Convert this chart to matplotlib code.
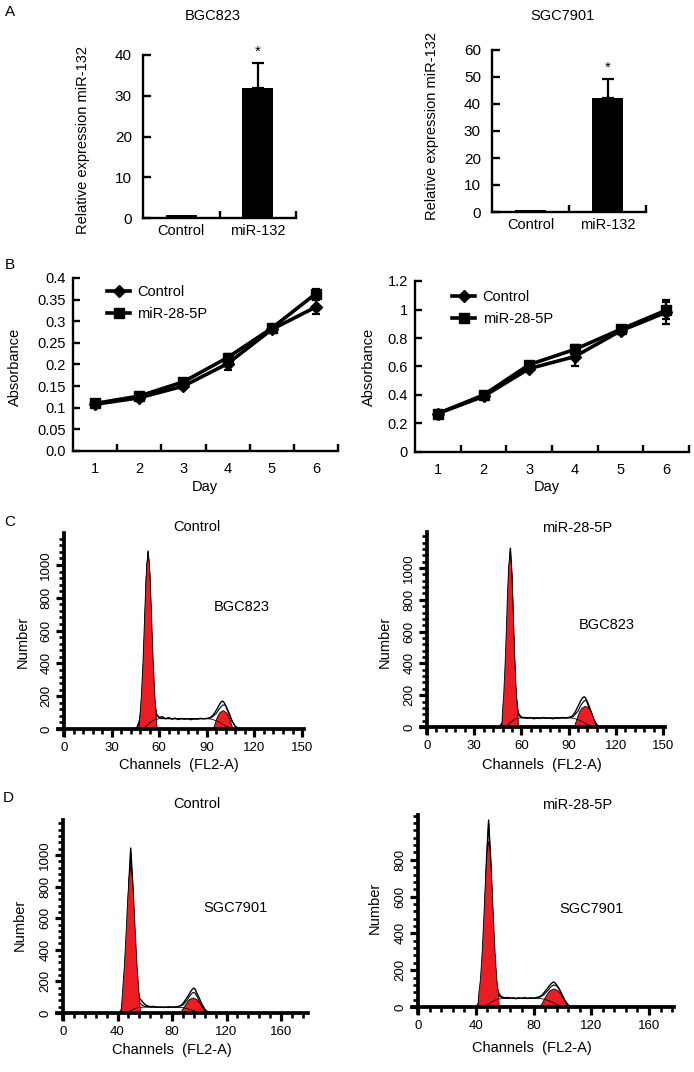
import matplotlib
matplotlib.use('Agg')
import matplotlib.pyplot as plt
import numpy as np
from matplotlib.ticker import MultipleLocator, FixedLocator

plt.rcParams['font.family'] = ['Liberation Sans', 'DejaVu Sans']
plt.rcParams['font.size'] = 10.5

# ---------------- data ----------------
bar_categories = ['Control', 'miR-132']
bgc_expr = [0.8, 32.0]
bgc_expr_err = [0.0, 6.1]
sgc_expr = [0.6, 42.1]
sgc_expr_err = [0.0, 7.2]

days = [1, 2, 3, 4, 5, 6]
bgc_ctrl_abs = [0.108, 0.123, 0.150, 0.202, 0.281, 0.333]
bgc_ctrl_err = [0.005, 0.005, 0.006, 0.014, 0.005, 0.017]
bgc_mir_abs = [0.110, 0.127, 0.160, 0.216, 0.284, 0.364]
bgc_mir_err = [0.006, 0.005, 0.005, 0.008, 0.005, 0.010]
sgc_ctrl_abs = [0.27, 0.39, 0.585, 0.67, 0.85, 0.98]
sgc_ctrl_err = [0.02, 0.015, 0.02, 0.07, 0.02, 0.085]
sgc_mir_abs = [0.27, 0.40, 0.613, 0.72, 0.86, 0.995]
sgc_mir_err = [0.02, 0.015, 0.02, 0.03, 0.02, 0.06]
bgc_abs_ticks = [0.0, 0.05, 0.1, 0.15, 0.2, 0.25, 0.3, 0.35, 0.4]
bgc_abs_ticklabels = ['0.0', '0.05', '0.1', '0.15', '0.2', '0.25', '0.3', '0.35', '0.4']
sgc_abs_ticks = [0, 0.2, 0.4, 0.6, 0.8, 1.0, 1.2]
sgc_abs_ticklabels = ['0', '0.2', '0.4', '0.6', '0.8', '1', '1.2']
series_labels = ['Control', 'miR-28-5P']

# Flow cytometry: BGC823 control
cb_g1_x = [47.35, 48.0, 48.72, 49.73, 50.48, 51.22, 52.14, 53, 53.86, 54.78, 55.52, 56.27, 57.28, 58.0, 58.65]
cb_g1_y = [0, 100, 200, 400, 600, 800, 1000, 1070, 1000, 800, 600, 400, 200, 100, 0]
cb_g2_x = [94.1, 94.8, 95.8, 97.0, 98.3, 100.3, 102.3, 103.6, 104.8, 105.8, 106.5]
cb_g2_y = [0, 20, 50, 80, 100, 112, 100, 80, 50, 20, 0]
cb_s_x = [49, 51, 53, 55, 57, 60, 70, 80, 90, 93, 96, 99, 102, 105, 108]
cb_s_y = [0, 10, 28, 45, 58, 63, 62, 62, 63, 60, 50, 35, 18, 6, 0]
cb_data_x = [44, 46, 48, 49.5, 51, 52, 53, 54, 55, 56, 57, 58, 59, 60, 62, 64, 66, 68, 70, 72,
             74, 76, 78, 80, 82, 84, 86, 88, 90, 92, 94, 96, 98, 99, 100, 101, 102, 104, 106, 108, 110, 112]
cb_data_y = [0, 10, 60, 220, 600, 920, 1085, 920, 560, 270, 140, 95, 80, 72, 75, 62, 70, 60, 66, 58,
             64, 60, 63, 57, 62, 60, 65, 62, 64, 68, 85, 115, 150, 165, 170, 160, 140, 90, 45, 15, 5, 0]
cb_fit_x = [45, 47, 49, 50.5, 52, 53, 54, 55.5, 57, 58.5, 60, 65, 75, 85, 90, 93, 96, 98, 100, 101, 102, 104, 106, 108, 110]
cb_fit_y = [0, 20, 150, 480, 950, 1075, 950, 480, 170, 85, 68, 64, 63, 63, 64, 70, 95, 125, 145, 148, 140, 100, 48, 15, 0]

# Flow: BGC823 miR-28-5P
mb_g1_x = [47.6, 47.98, 48.74, 49.67, 50.38, 51.04, 51.84, 52.8, 53.76, 54.56, 55.22, 55.93, 56.86, 57.62, 58.2]
mb_g1_y = [0, 100, 200, 400, 600, 800, 1000, 1100, 1000, 800, 600, 400, 200, 100, 0]
mb_g2_x = [93.7, 94.5, 95.7, 97.0, 98.5, 100.7, 102.9, 104.4, 105.7, 106.9, 107.7]
mb_g2_y = [0, 25, 60, 95, 118, 130, 118, 95, 60, 25, 0]
mb_s_x = [49, 51, 53, 55, 57, 60, 70, 80, 90, 93, 96, 99, 102, 105, 108]
mb_s_y = [0, 10, 28, 44, 54, 57, 57, 56, 57, 55, 46, 32, 16, 5, 0]
mb_data_x = [46, 48, 49.5, 51, 52, 53, 54, 55, 56, 57, 58, 59, 60, 62, 64, 66, 68, 70, 72, 74,
             76, 78, 80, 82, 84, 86, 88, 90, 92, 94, 96, 98, 99, 100, 101, 102, 104, 106, 108, 110]
mb_data_y = [0, 30, 170, 600, 950, 1125, 950, 600, 280, 130, 80, 66, 60, 58, 55, 60, 52, 57, 54, 60,
             55, 57, 52, 58, 56, 60, 57, 60, 66, 90, 130, 170, 185, 190, 180, 150, 90, 40, 12, 0]
mb_fit_x = [46, 48, 49.5, 51, 52, 53, 54, 55, 56.5, 58, 60, 65, 75, 85, 90, 93, 96, 98, 100, 101, 102, 104, 106, 108, 110]
mb_fit_y = [0, 25, 150, 580, 930, 1110, 930, 580, 220, 90, 62, 58, 57, 57, 58, 65, 100, 140, 165, 168, 160, 110, 50, 15, 0]

# Flow: SGC7901 control
cs_g1_x = [42.45, 43.1, 43.8, 45.04, 46.25, 47.36, 48.39, 49.7, 51.01, 52.04, 53.15, 54.36, 55.6, 56.3, 56.95]
cs_g1_y = [0, 60, 150, 300, 500, 700, 850, 930, 850, 700, 500, 300, 150, 60, 0]
cs_g2_x = [86.1, 87.4, 89.1, 91.0, 92.8, 95.6, 98.4, 100.2, 102.1, 103.8, 105.1]
cs_g2_y = [0, 15, 40, 65, 85, 95, 85, 65, 40, 15, 0]
cs_s_x = [45, 48, 51, 54, 57, 60, 70, 80, 85, 88, 91, 94, 97, 100, 103]
cs_s_y = [0, 8, 22, 32, 36, 37, 36, 36, 36, 34, 28, 20, 11, 4, 0]
cs_data_x = [41, 43, 45, 47, 48.5, 49.7, 51, 52.5, 54.5, 56, 57, 58, 60, 62, 64, 66, 68, 70, 72, 74,
             76, 78, 80, 82, 84, 86, 88, 90, 92, 94, 95, 96, 97, 98, 100, 102, 104, 106, 108]
cs_data_y = [0, 20, 120, 460, 850, 1044, 850, 450, 170, 95, 85, 75, 55, 45, 40, 42, 38, 36, 38, 35,
             37, 40, 36, 38, 40, 45, 60, 85, 110, 140, 150, 158, 150, 130, 95, 55, 25, 8, 0]
cs_fit_x = [41, 43, 45, 47, 48.5, 49.7, 51, 52.5, 54.5, 56, 58, 60, 65, 75, 84, 88, 91, 93, 95, 96, 97, 99, 101, 103, 105, 107]
cs_fit_y = [0, 15, 100, 430, 820, 1020, 820, 420, 150, 70, 50, 42, 38, 37, 38, 50, 80, 108, 128, 130, 125, 95, 55, 25, 8, 0]

# Flow: SGC7901 miR-28-5P
ms_g1_x = [41.5, 41.92, 43.22, 44.45, 45.65, 46.77, 47.88, 48.9, 49.92, 51.03, 52.15, 53.35, 54.58, 55.88, 56.3]
ms_g1_y = [0, 60, 150, 300, 500, 700, 850, 900, 850, 700, 500, 300, 150, 60, 0]
ms_g2_x = [84.2, 85.7, 87.4, 89.4, 91.3, 94.2, 97.1, 99.0, 101.0, 102.7, 104.2]
ms_g2_y = [0, 15, 40, 68, 88, 98, 88, 68, 40, 15, 0]
ms_s_x = [44, 47, 50, 53, 56, 60, 70, 80, 84, 87, 90, 93, 96, 99, 102]
ms_s_y = [0, 8, 22, 36, 44, 47, 46, 46, 46, 43, 36, 26, 14, 5, 0]
ms_data_x = [40, 42, 44, 46, 47.5, 48.9, 50.3, 52, 53.5, 55, 56, 57, 58, 60, 62, 64, 66, 68, 70, 72,
             74, 76, 78, 80, 82, 84, 86, 88, 90, 92, 93, 94, 95, 96, 98, 100, 102, 104, 106]
ms_data_y = [0, 20, 120, 440, 810, 1016, 810, 420, 180, 95, 75, 62, 55, 50, 52, 48, 50, 45, 50, 47,
             52, 46, 50, 48, 52, 55, 65, 85, 105, 125, 132, 136, 130, 120, 95, 60, 30, 10, 0]
ms_fit_x = [40, 42, 44, 46, 47.5, 48.9, 50.3, 52, 53.5, 55, 57, 60, 70, 80, 84, 87, 90, 92, 94, 96, 98, 100, 102, 104, 106]
ms_fit_y = [0, 15, 100, 410, 790, 1000, 790, 400, 160, 80, 55, 49, 48, 48, 52, 65, 90, 110, 120, 115, 95, 65, 35, 12, 0]

# ---------------- figure ----------------
W, H = 694, 1072
fig = plt.figure(figsize=(W / 100, H / 100), dpi=100)
RED = '#EC1C24'


def add_ax(l, t, r, b):
    return fig.add_axes([l / W, 1 - b / H, (r - l) / W, (b - t) / H])


def fig_xy(x, y):
    return x / W, 1 - y / H


def place_ylabel(ax, text, x, y, size=10.5):
    ax.set_ylabel(text, fontsize=size, va='center', ha='center')
    ax.yaxis.set_label_coords(*fig_xy(x, y), transform=fig.transFigure)


def place_xlabel(ax, text, x, y, size=10.5):
    ax.set_xlabel(text, fontsize=size, va='center', ha='center')
    ax.xaxis.set_label_coords(*fig_xy(x, y), transform=fig.transFigure)


def bar_panel(box, vals, errs, ymax, ystep, title, title_xy, ylab_xy, star_off):
    ax = add_ax(*box)
    ax.bar([0.5, 1.5], vals, width=0.405, color='black')
    ax.errorbar([1.5], [vals[1]], yerr=[[0], [errs[1]]], fmt='none', ecolor='black',
                elinewidth=1.6, capsize=4.5, capthick=1.6)
    ax.annotate('*', xy=(1.5, vals[1] + errs[1]), xytext=(0, star_off), textcoords='offset points',
                ha='center', va='bottom', fontsize=11)
    ax.set_xlim(0, 2)
    ax.set_ylim(0, ymax)
    for s in ['top', 'right']:
        ax.spines[s].set_visible(False)
    for s in ['left', 'bottom']:
        ax.spines[s].set_linewidth(1.7)
    ax.set_xticks([1, 2])
    ax.set_xticks([0.5, 1.5], minor=True)
    ax.set_xticklabels(bar_categories, minor=True, fontsize=10.5)
    ax.tick_params(axis='x', which='major', direction='in', length=5, width=1.7, labelbottom=False)
    ax.tick_params(axis='x', which='minor', length=0, pad=4)
    ax.set_yticks(list(range(0, ymax + 1, ystep)))
    ax.tick_params(axis='y', direction='in', length=6, width=1.7, pad=8, labelsize=11)
    fig.text(*fig_xy(*title_xy), title, ha='center', va='center', fontsize=10.5)
    place_ylabel(ax, 'Relative expression miR-132', *ylab_xy)
    return ax


bar_panel((143, 55, 296, 218), bgc_expr, bgc_expr_err, 40, 10, 'BGC823', (213, 16), (83, 140), 2.5)
bar_panel((492, 50, 646, 212), sgc_expr, sgc_expr_err, 60, 10, 'SGC7901', (562, 16), (432, 126), 3.0)


def growth_panel(box, ctrl, ctrl_err, mir, mir_err, ymax, yticks, yticklabels, ylab_xy, day_xy, leg_anchor):
    ax = add_ax(*box)
    c1 = ax.errorbar(days, ctrl, yerr=ctrl_err, color='black', marker='D', ms=6.5, lw=2.6,
                     elinewidth=1.6, capsize=3, capthick=1.6)
    c2 = ax.errorbar(days, mir, yerr=mir_err, color='black', marker='s', ms=7, lw=2.6,
                     elinewidth=1.6, capsize=3, capthick=1.6)
    ax.set_xlim(0.5, 6.5)
    ax.set_ylim(0, ymax)
    for s in ['top', 'right']:
        ax.spines[s].set_visible(False)
    for s in ['left', 'bottom']:
        ax.spines[s].set_linewidth(1.7)
    ax.set_xticks([d + 0.5 for d in days])
    ax.set_xticks(days, minor=True)
    ax.set_xticklabels([str(d) for d in days], minor=True, fontsize=10.5)
    ax.tick_params(axis='x', which='major', direction='in', length=5, width=1.7, labelbottom=False)
    ax.tick_params(axis='x', which='minor', length=0, pad=8)
    ax.set_yticks(yticks)
    ax.set_yticklabels(yticklabels, fontsize=10.5)
    ax.tick_params(axis='y', direction='in', length=5, width=1.7, pad=5)
    ax.legend([c1[0], c2[0]], series_labels, loc='upper left', bbox_to_anchor=leg_anchor,
              frameon=False, borderpad=0, borderaxespad=0, handlelength=1.6,
              handletextpad=0.5, labelspacing=0.55, fontsize=10.5)
    place_ylabel(ax, 'Absorbance', *ylab_xy)
    place_xlabel(ax, 'Day', *day_xy)
    return ax


growth_panel((73, 278, 338, 451), bgc_ctrl_abs, bgc_ctrl_err, bgc_mir_abs, bgc_mir_err, 0.4,
             bgc_abs_ticks, bgc_abs_ticklabels, (15, 367), (205, 487), (0.128, 0.96))
growth_panel((415, 281, 689, 452), sgc_ctrl_abs, sgc_ctrl_err, sgc_mir_abs, sgc_mir_err, 1.2,
             sgc_abs_ticks, sgc_abs_ticklabels, (369, 367), (547, 487), (0.135, 0.947))


def flow_panel(box, origin, ppx, ppy, xstep, ymajor_max, g1, g2, sph, data, fit,
               title, title_xy, cell, cell_xy, ylab_xy, xlab_xy):
    l, t, r, b = box
    ox, oy = origin
    ax = add_ax(l, t, r, b)
    ax.set_xlim((l - ox) / ppx, (r - ox) / ppx)
    ax.set_ylim(-(b - oy) / ppy, (oy - t) / ppy)
    ax.plot(data[0], data[1], color='black', lw=1.0, zorder=2)
    ax.plot(fit[0], fit[1], color='black', lw=0.8, zorder=2)
    ax.fill(g1[0], g1[1], facecolor=RED, edgecolor='black', lw=0.6, zorder=3)
    ax.fill(g2[0], g2[1], facecolor=RED, edgecolor='black', lw=0.6, zorder=3)
    sx = np.array(sph[0], dtype=float)
    sy = np.array(sph[1], dtype=float)
    g1_end = max(g1[0]) + 1.0
    ax.fill_between(sx, sy, where=sx <= g1_end, interpolate=True, facecolor=RED, lw=0, zorder=3)
    ax.plot(sx, sy, color='black', lw=0.6, zorder=4)
    for s in ['top', 'right']:
        ax.spines[s].set_visible(False)
    for s in ['left', 'bottom']:
        ax.spines[s].set_position(('data', 0))
        ax.spines[s].set_linewidth(2.7)
        ax.spines[s].set_zorder(5)
    ax.xaxis.set_major_locator(MultipleLocator(xstep))
    ax.xaxis.set_minor_locator(MultipleLocator(xstep / 5))
    ymaj = list(range(0, ymajor_max + 1, 200))
    ax.yaxis.set_major_locator(FixedLocator(ymaj))
    ax.yaxis.set_minor_locator(MultipleLocator(40))
    ax.tick_params(which='major', direction='out', length=5.5, width=2.3)
    ax.tick_params(which='minor', direction='out', length=3.5, width=1.9)
    ax.tick_params(axis='x', which='major', pad=4, labelsize=9.5)
    ax.tick_params(axis='y', which='major', pad=3, labelsize=9.5, labelrotation=90)
    for lab in ax.get_yticklabels():
        lab.set_va('center')
    fig.text(*fig_xy(*title_xy), title, ha='center', va='center', fontsize=10.5)
    ax.text(*fig_xy(*cell_xy), cell, transform=fig.transFigure, ha='center', va='center', fontsize=10.5)
    place_ylabel(ax, 'Number', *ylab_xy)
    place_xlabel(ax, 'Channels  (FL2-A)', *xlab_xy)
    return ax


flow_panel((58, 533, 304, 735), (64, 729), 1.587, 0.164, 30, 1000,
           (cb_g1_x, cb_g1_y), (cb_g2_x, cb_g2_y), (cb_s_x, cb_s_y), (cb_data_x, cb_data_y), (cb_fit_x, cb_fit_y),
           'Control', (197, 527), 'BGC823', (242, 607), (23, 642), (179, 765))
flow_panel((421, 532, 665, 733), (427, 727), 1.573, 0.159, 30, 1000,
           (mb_g1_x, mb_g1_y), (mb_g2_x, mb_g2_y), (mb_s_x, mb_s_y), (mb_data_x, mb_data_y), (mb_fit_x, mb_fit_y),
           'miR-28-5P', (577, 528), 'BGC823', (607, 625), (385, 642), (542, 765))
flow_panel((57, 820, 308, 1019), (63, 1013), 1.3625, 0.158, 40, 1000,
           (cs_g1_x, cs_g1_y), (cs_g2_x, cs_g2_y), (cs_s_x, cs_s_y), (cs_data_x, cs_data_y), (cs_fit_x, cs_fit_y),
           'Control', (197, 804), 'SGC7901', (235, 908), (20, 925), (172, 1050))
flow_panel((412, 815, 674, 1013), (418, 1007), 1.444, 0.184, 40, 800,
           (ms_g1_x, ms_g1_y), (ms_g2_x, ms_g2_y), (ms_s_x, ms_s_y), (ms_data_x, ms_data_y), (ms_fit_x, ms_fit_y),
           'miR-28-5P', (577, 805), 'SGC7901', (591, 909), (375, 908), (532, 1048))

for letter, (px, py) in zip(['A', 'B', 'C', 'D'], [(10, 12), (10, 265), (10, 522), (8, 798)]):
    fig.text(*fig_xy(px, py), letter, ha='center', va='center', fontsize=11)

fig.savefig('out.png', dpi=100)
